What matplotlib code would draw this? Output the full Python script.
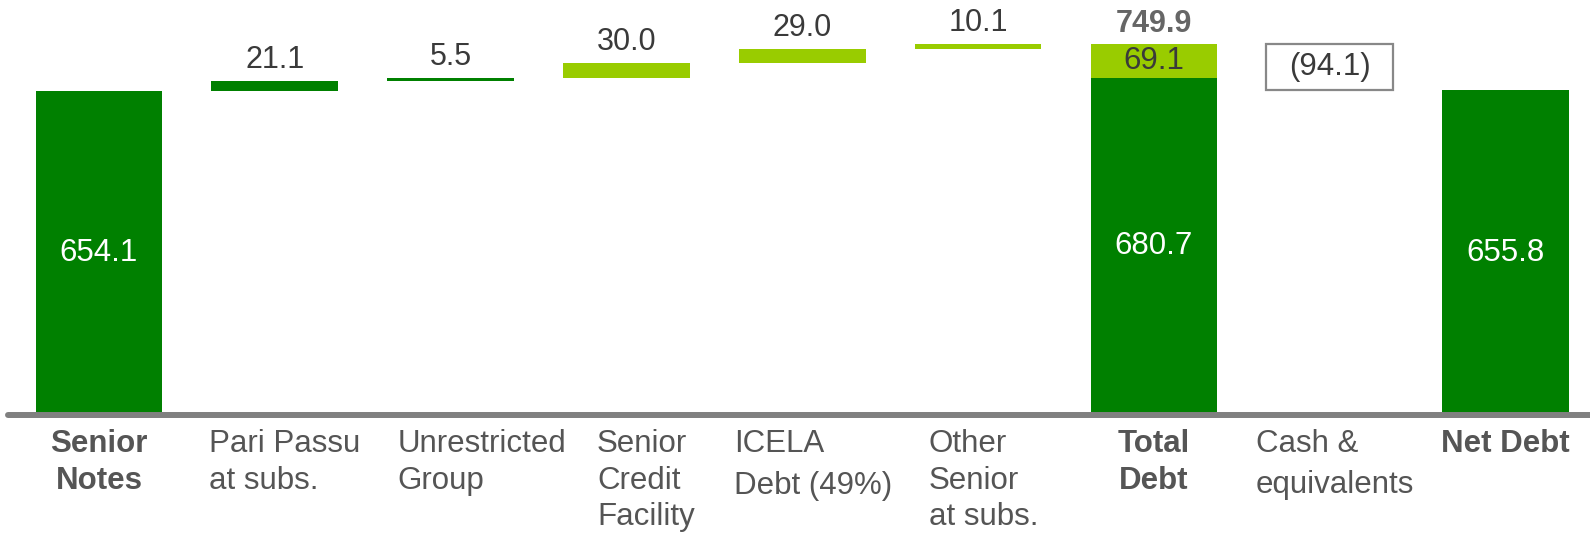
import matplotlib
matplotlib.use("Agg")
import matplotlib.pyplot as plt

plt.rcParams['font.family'] = ['Liberation Sans', 'DejaVu Sans']

# ---- data ----
categories = ["Senior\nNotes", "Pari Passu\nat subs.", "Unrestricted\nGroup",
              "Senior\nCredit\nFacility", "ICELA\nDebt (49%)", "Other\nSenior\nat subs.",
              "Total\nDebt", "Cash &\nequivalents", "Net Debt"]
senior_notes = 654.1
increments = [21.1, 5.5, 30.0, 29.0, 10.1]
increment_is_light = [False, False, True, True, True]
total_dark = 680.7
total_light = 69.1
total_debt = 749.9
cash = -94.1
net_debt = 655.8
bold_cats = [True, False, False, False, False, False, True, False, True]

# ---- style ----
DARK = "#008000"
LIGHT = "#99CC00"
GRAY = "#808080"
TXT = "#3a3a3a"
LAB = "#555555"
W = 0.72
FS_VAL = 22
FS_IN = 22.5
FS_CAT = 22.5

fig = plt.figure(figsize=(15.9, 5.34), dpi=100)
base_px = 415
ax = fig.add_axes([0, (534 - base_px) / 534, 1, base_px / 534])
scale = (base_px - 91) / senior_notes
ax.set_ylim(0, base_px / scale)
ax.set_xlim(-0.5625, 8.48)
ax.axis("off")

# Senior notes
ax.bar(0, senior_notes, W, color=DARK, zorder=2)
ax.text(0, senior_notes / 2, f"{senior_notes:.1f}", color="white", fontsize=FS_IN,
        ha="center", va="center", zorder=3)

# increments
cum = senior_notes
for i, (v, light) in enumerate(zip(increments, increment_is_light), start=1):
    ax.bar(i, v, W, bottom=cum, color=LIGHT if light else DARK, zorder=2)
    ax.annotate(f"{v:.1f}", xy=(i, cum + v), xytext=(0, 4), textcoords="offset points",
                ha="center", va="bottom", fontsize=FS_VAL, color=TXT)
    cum += v

# Total debt
ax.bar(6, total_dark, W, color=DARK, zorder=2)
ax.bar(6, total_light, W, bottom=total_dark, color=LIGHT, zorder=2)
ax.text(6, total_dark / 2, f"{total_dark:.1f}", color="white", fontsize=FS_IN,
        ha="center", va="center", zorder=3)
ax.text(6, total_dark + total_light / 2, f"{total_light:.1f}", color=TXT, fontsize=FS_IN,
        ha="center", va="center", zorder=3)
ax.annotate(f"{total_debt:.1f}", xy=(6, total_debt), xytext=(0, 3.5), textcoords="offset points",
            ha="center", va="bottom", fontsize=22, color="#666666", fontweight="bold")

# Cash box
ax.bar(7, -cash, W, bottom=total_debt + cash, color="white", edgecolor="#888888",
       linewidth=1.6, zorder=2)
ax.text(7, total_debt + cash / 2, f"({-cash:.1f})", color=TXT, fontsize=FS_IN,
        ha="center", va="center", zorder=3)

# Net debt
ax.bar(8, net_debt, W, color=DARK, zorder=2)
ax.text(8, net_debt / 2, f"{net_debt:.1f}", color="white", fontsize=FS_IN,
        ha="center", va="center", zorder=3)

# baseline
ax.axhline(0, xmin=8 / 1590, xmax=1, color=GRAY, lw=4.3, zorder=5,
           solid_capstyle="round", clip_on=False)

# category labels
label_dx = [0, -0.375, -0.30, -0.167, -0.39, -0.28, 0, -0.42, 0]
label_ls = [1.29, 1.29, 1.29, 1.29, 1.52, 1.29, 1.29, 1.5, 1.29]
for i, (cat, b) in enumerate(zip(categories, bold_cats)):
    ha = "center" if b else "left"
    ax.annotate(cat, xy=(i + label_dx[i], 0), xytext=(0, -10), textcoords="offset points",
                ha=ha, va="top", fontsize=FS_CAT, color=LAB,
                fontweight="bold" if b else "normal",
                multialignment="center" if b else "left",
                linespacing=label_ls[i], annotation_clip=False)

fig.savefig("out.png", dpi=100)
